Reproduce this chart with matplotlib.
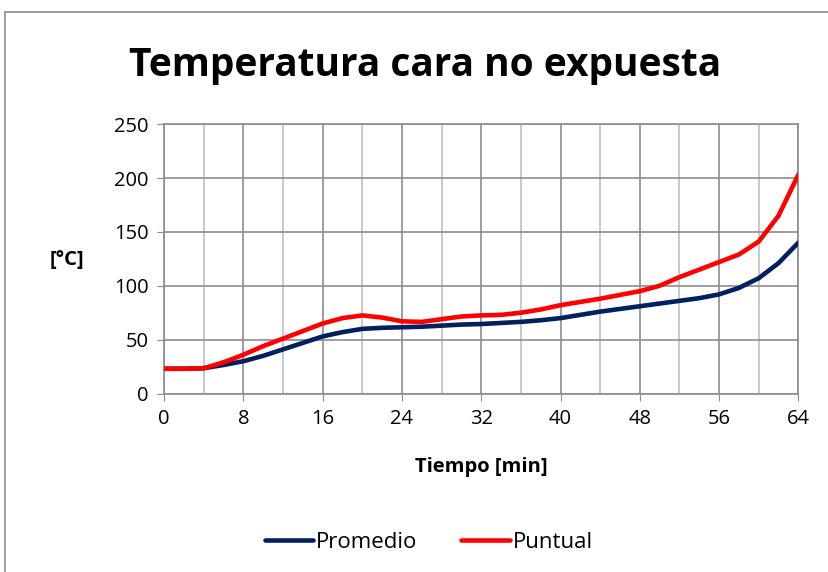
import matplotlib.pyplot as plt
from matplotlib.patches import Rectangle
from matplotlib.ticker import MultipleLocator

plt.rcParams['font.family'] = ['Open Sans', 'DejaVu Sans']

# minutes, readings every 2 min
tiempo = list(range(0, 65, 2))
promedio = [23, 23, 23.5, 26.5, 30, 35, 41, 47, 53, 57, 60, 61, 61.5, 62, 63, 64, 64.5,
            65.5, 66.5, 68, 70, 73, 76, 78.5, 81, 83.5, 86, 88.5, 92, 98, 107, 121, 140]
puntual = [23, 23, 23.5, 29, 36, 44, 51, 58, 65, 70, 72.5, 70.5, 67, 66.5, 69, 71.5, 72.5,
           73, 75, 78, 82, 85, 88, 91.5, 95, 100, 108, 115, 122, 129, 141, 165, 203]

fig = plt.figure(figsize=(8.29, 5.72), dpi=100, facecolor='white')
fig.patches.append(Rectangle((5/829, -0.1), 1.0, 1 - 12/572 + 0.1, transform=fig.transFigure,
                             fill=False, edgecolor='#8c8c8c', linewidth=1.2))

ax = fig.add_axes([0.198, 0.312, 0.765, 0.471])
l1, = ax.plot(tiempo, promedio, color='#002060', lw=3.3, solid_capstyle='round',
              solid_joinstyle='round', zorder=3)
l2, = ax.plot(tiempo, puntual, color='#ff0000', lw=3.3, solid_capstyle='round',
              solid_joinstyle='round', zorder=4)

ax.set_xlim(0, 64)
ax.set_ylim(0, 250)
ax.xaxis.set_major_locator(MultipleLocator(8))
ax.xaxis.set_minor_locator(MultipleLocator(4))
ax.yaxis.set_major_locator(MultipleLocator(50))
ax.grid(which='major', color='#8c8c8c', lw=1.2)
ax.grid(which='minor', axis='x', color='#c0c0c0', lw=1.2)
for s in ax.spines.values():
    s.set_color('#8c8c8c')
    s.set_linewidth(1.2)
ax.tick_params(which='major', length=5, color='#8c8c8c', labelsize=14.5, pad=6)
ax.tick_params(which='minor', length=0)

ax.set_xlabel('Tiempo [min]', fontsize=14.5, fontweight='bold', va='center')
ax.xaxis.set_label_coords(0.5, -0.272)
ax.set_ylabel('[°C]', fontsize=14.5, fontweight='bold', rotation=0, va='center', ha='center')
ax.yaxis.set_label_coords(-0.153, 0.495)
fig.text(0.513, 0.885, 'Temperatura cara no expuesta', ha='center', va='center',
         fontsize=28, fontweight='bold')

fig.legend([l1, l2], ['Promedio', 'Puntual'], loc='center', bbox_to_anchor=(0.517, 0.052),
           ncol=2, frameon=False, fontsize=16, handlelength=2.2, handletextpad=0.1,
           columnspacing=2.0)

plt.savefig('out.png', dpi=100)
